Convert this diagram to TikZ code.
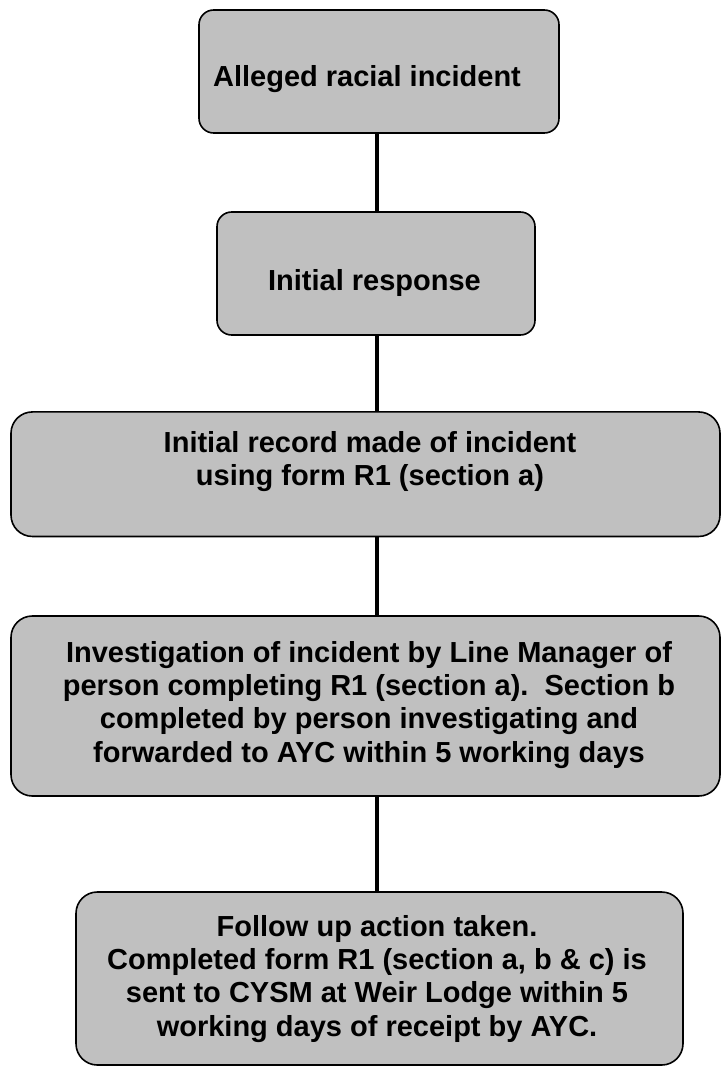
\documentclass[tikz,border=0pt]{standalone}
\usepackage{fontspec}
\setmainfont{Liberation Sans}
\definecolor{boxgray}{HTML}{C0C0C0}
\begin{document}
\begin{tikzpicture}[x=0.75pt,y=-0.75pt,
  stagebox/.style={draw=black, line width=1.2pt, fill=boxgray, inner sep=0pt},
  smallround/.style={rounded corners=11pt},
  biground/.style={rounded corners=16pt},
  stagetext/.style={font=\fontsize{21.75}{25}\selectfont\bfseries, align=center, inner sep=0pt, anchor=north},
  link/.style={line width=3.7pt, draw=black}]
\useasboundingbox (0,0) rectangle (721,1068);
\coordinate (spine) at (377,0);
% boxes
\node[stagebox, smallround, minimum width=270pt, minimum height=92.25pt] (b1) at (379,71.5) {};
\node[stagebox, smallround, minimum width=238.5pt, minimum height=92.25pt] (b2) at (376,273.5) {};
\node[stagebox, biground, minimum width=531.75pt, minimum height=93.4pt] (b3) at (365.5,474.2) {};
\node[stagebox, biground, minimum width=531.75pt, minimum height=135pt] (b4) at (365.5,706) {};
\node[stagebox, biground, minimum width=455.25pt, minimum height=129.75pt] (b5) at (379.5,978.5) {};
% texts
\node[stagetext] (t1) at (367,65) {Alleged racial incident};
\node[stagetext] (t2) at (374.5,269) {Initial response};
\node[stagetext] (t3) at (370,431) {Initial record made of incident\\using form R1 (section a)};
\node[stagetext] (t4) at (369,641) {Investigation of incident by Line Manager of\\person completing R1 (section a).\ \ Section b\\completed by person investigating and\\forwarded to AYC within 5 working days};
\node[stagetext] (t5) at (377,915) {Follow up action taken.\\Completed form R1 (section a, b \& c) is\\sent to CYSM at Weir Lodge within 5\\working days of receipt by AYC.};
% connectors
\draw[link] (b1.south -| spine) -- (b2.north -| spine);
\draw[link] (b2.south -| spine) -- (b3.north -| spine);
\draw[link] (b3.south -| spine) -- (b4.north -| spine);
\draw[link] (b4.south -| spine) -- (b5.north -| spine);
\end{tikzpicture}
\end{document}
